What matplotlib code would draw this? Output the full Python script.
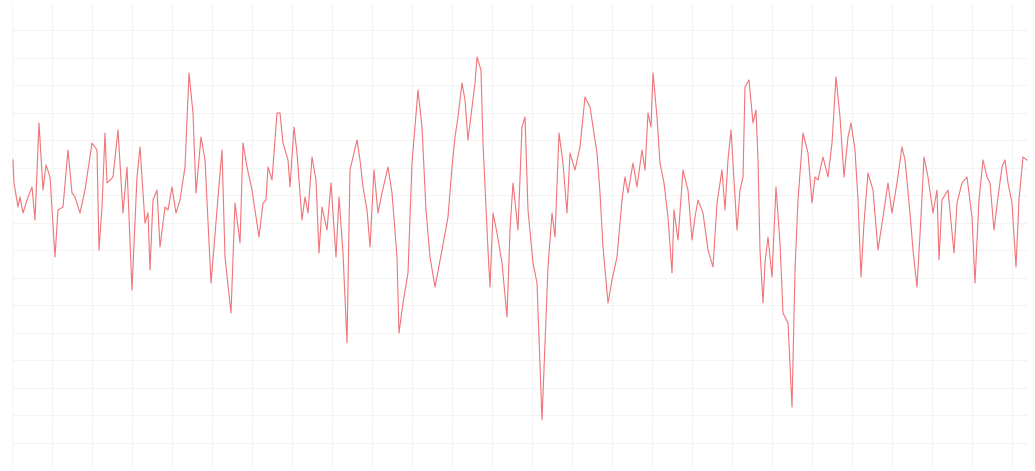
import matplotlib
matplotlib.use('Agg')
import matplotlib.pyplot as plt
from matplotlib.ticker import MultipleLocator

# Serie (eixo x = amostra, eixo y = valor)
t = [1, 2, 6, 8, 11, 15, 20, 23, 27, 31, 34, 38, 43, 46, 51, 56, 60, 63, 68, 73, 80, 85, 87, 90, 93, 95, 101, 106,
     111, 115, 120, 125, 128, 133, 136, 138, 141, 145, 148, 153, 156, 160, 164, 168, 173, 177, 181, 184, 189, 193, 199, 202, 206, 210, 213, 219,
     223, 228, 231, 235, 240, 247, 251, 254, 256, 260, 265, 268, 271, 276, 278, 282, 285, 290, 293, 296, 300, 304, 307, 310, 315, 319, 324, 327, 331, 335,
     338, 345, 348, 351, 355, 358, 362, 366, 370, 376, 380, 385, 387, 391, 396, 400, 406, 410, 414, 418, 423, 430, 436, 440, 443, 446, 450,
     453, 456, 463, 465, 469, 471, 476, 478, 481, 485, 490, 495, 498, 501, 506, 510, 513, 516, 521, 525, 528, 530, 533, 536, 540, 543, 547, 551, 555, 558, 563,
     568, 573, 578, 581, 585, 588, 591, 596, 600, 605, 610, 613, 616, 621, 625, 630, 633, 636, 639, 641, 645, 648, 652, 656, 660, 662, 666, 671, 676, 680,
     683, 686, 691, 696, 701, 705, 710, 713, 716, 719, 721, 725, 728, 731, 733, 737, 741, 744, 746, 748, 751, 753, 756, 760, 764, 768, 771, 776, 780, 783, 786, 791,
     796, 800, 803, 806, 811, 816, 820, 824, 828, 832, 836, 839, 843, 846, 849, 852, 856, 861, 866, 871, 876, 880, 885, 890, 893, 898, 901, 905,
     909, 912, 916, 921, 925, 927, 930, 936, 942, 945, 950, 955, 960, 963, 967, 971, 975, 978, 982, 986, 990, 993, 996, 1000, 1004, 1007, 1011, 1015]

v = [35, 12, -12, -2, -18, -5, 8, -25, 72, 5, 30, 18, -62, -15, -12, 45, 2, -2, -18, 5, 52, 45, -55, -12, 62, 12, 18, 65,
     -18, 28, -95, 18, 48, -28, -18, -75, -5, 5, -52, -12, -15, 8, -18, -5, 28, 122, 82, 2, 58, 35, -88, -52, -2, 45, -62, -118,
     -8, -48, 52, 28, 5, -42, -8, -5, 28, 15, 82, 82, 52, 35, 8, 68, 42, -25, -2, -18, 38, 15, -58, -12, -35, 12, -62, -2, -58, -148,
     25, 55, 35, 8, -15, -52, 25, -18, 2, 28, 2, -62, -138, -108, -78, 32, 105, 68, -15, -62, -92, -55, -22, 28, 58, 78, 112,
     95, 55, 112, 138, 125, 52, -55, -92, -18, -38, -68, -122, -35, 12, -35, 68, 78, -15, -68, -88, -172, -225, -148, -72, -18, -42, 62, 32, -18, 42, 25,
     48, 98, 88, 68, 42, 2, -52, -108, -85, -62, -5, 18, 2, 32, 8, 45, 25, 82, 68, 122, 78, 32, 12, -22, -78, -15, -45, 25, 5, -45,
     -22, -5, -18, -55, -72, -8, 25, -15, 35, 65, 32, -35, 5, 18, 108, 115, 72, 85, 35, -55, -108, -68, -42, -82, 8, -48, -118, -128, -212, -75, -5, 62,
     42, -8, 18, 15, 38, 18, 52, 118, 78, 18, 58, 72, 45, -5, -82, -28, 22, 5, -55, -22, 12, -18, 12, 48, 35, -18, -55, -92,
     -22, 38, 18, -18, 5, -65, -5, 5, -58, -8, 12, 18, -22, -88, -5, 35, 18, 12, -35, -2, 28, 35, 12, -8, -72, -5, 38, 35]

fig = plt.figure(figsize=(10.35, 4.71), dpi=100)
ax = fig.add_axes([12 / 1035, 4 / 471, 1016 / 1035, 462 / 471])

ax.plot(t, v, color='#f07478', linewidth=0.8)

ax.set_xlim(0, 1016)
ax.set_ylim(-272, 190)

# grade bem clarinha, sem rotulos
ax.xaxis.set_major_locator(MultipleLocator(40))
ax.yaxis.set_major_locator(MultipleLocator(27.5))
ax.grid(True, color='#f4f4f4', linewidth=0.8)
ax.set_axisbelow(True)
ax.tick_params(left=False, bottom=False, labelleft=False, labelbottom=False)
for s in ax.spines.values():
    s.set_visible(False)

plt.savefig('out.png', dpi=100)
